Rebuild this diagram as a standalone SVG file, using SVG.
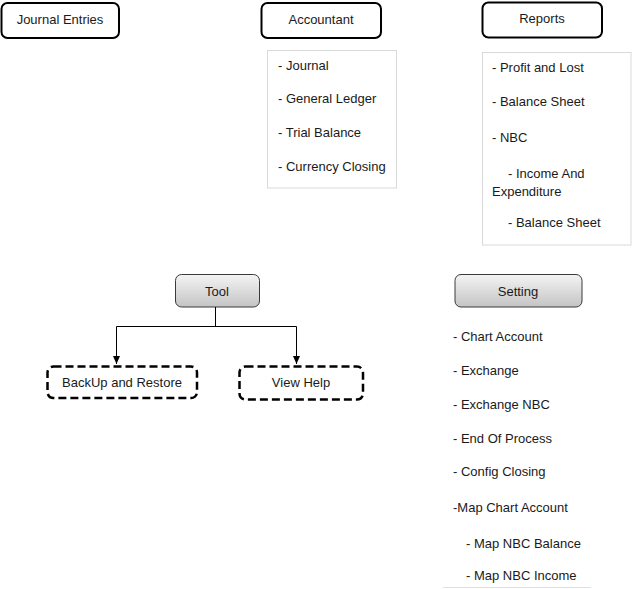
<svg xmlns="http://www.w3.org/2000/svg" width="633" height="589" viewBox="0 0 633 589">
<defs>
<linearGradient id="grayGrad" x1="0" y1="0" x2="0" y2="1">
<stop offset="0" stop-color="#f4f4f4"/>
<stop offset="1" stop-color="#c4c4c4"/>
</linearGradient>
<marker id="arrow" viewBox="0 0 8 7" refX="8" refY="3.5" markerWidth="8" markerHeight="7" markerUnits="userSpaceOnUse" orient="auto">
<path d="M0,0 L8,3.5 L0,7 Z" fill="#000"/>
</marker>
</defs>
<style>
text { font-family: "Liberation Sans", Arial, sans-serif; fill: #1a1a1a; }
.hdr { font-size: 13px; text-anchor: middle; }
.item { font-size: 13px; }
.box { fill: #fff; stroke: #000; stroke-width: 2; }
.gbox { fill: url(#grayGrad); stroke: #3a3a3a; stroke-width: 1; }
.dbox { fill: #fff; stroke: #000; stroke-width: 2.5; stroke-dasharray: 8 4; }
.list { fill: #fff; stroke: #d9d9d9; stroke-width: 1; }
.conn { fill: none; stroke: #000; stroke-width: 1; }
</style>

<g id="journal-entries">
<rect class="box" x="1.5" y="3" width="117.5" height="35" rx="6"/>
<text class="hdr" x="60" y="23.5">Journal Entries</text>
</g>

<g id="accountant">
<rect class="box" x="261.5" y="3" width="119.5" height="35" rx="6"/>
<text class="hdr" x="321" y="23.5">Accountant</text>
</g>

<g id="accountant-list">
<rect class="list" x="267.5" y="50.5" width="129" height="137.5"/>
<text class="item" x="278" y="70">- Journal</text>
<text class="item" x="278" y="103">- General Ledger</text>
<text class="item" x="278" y="137">- Trial Balance</text>
<text class="item" x="278" y="171">- Currency Closing</text>
</g>

<g id="reports">
<rect class="box" x="482.5" y="2.5" width="119.5" height="35" rx="6"/>
<text class="hdr" x="542" y="22.5">Reports</text>
</g>

<g id="reports-list">
<rect class="list" x="482.5" y="52.5" width="148.5" height="192.5"/>
<text class="item" x="492" y="72">- Profit and Lost</text>
<text class="item" x="492" y="106">- Balance Sheet</text>
<text class="item" x="492" y="142">- NBC</text>
<text class="item" x="508" y="178">- Income And</text>
<text class="item" x="492" y="196">Expenditure</text>
<text class="item" x="508" y="227">- Balance Sheet</text>
</g>

<g id="tool">
<rect class="gbox" x="175.5" y="274.5" width="84" height="32.5" rx="6"/>
<text class="hdr" x="217" y="295.5">Tool</text>
</g>

<g id="backup-restore">
<rect class="dbox" x="47.5" y="366.5" width="149.5" height="31.5" rx="6"/>
<text class="hdr" x="122" y="387">BackUp and Restore</text>
</g>

<g id="view-help">
<rect class="dbox" x="239.5" y="366.5" width="123.5" height="33" rx="6"/>
<text class="hdr" x="301" y="387">View Help</text>
</g>

<g id="setting">
<rect class="gbox" x="455" y="274.5" width="127" height="32.5" rx="6"/>
<text class="hdr" x="518" y="295.5">Setting</text>
</g>

<g id="setting-list">
<line x1="443" y1="587.5" x2="591" y2="587.5" stroke="#e0e0e0" stroke-width="1"/>
<text class="item" x="453" y="340.5">- Chart Account</text>
<text class="item" x="453" y="374.5">- Exchange</text>
<text class="item" x="453" y="408.5">- Exchange NBC</text>
<text class="item" x="453" y="442.5">- End Of Process</text>
<text class="item" x="453" y="475.5">- Config Closing</text>
<text class="item" x="453" y="511.5">-Map Chart Account</text>
<text class="item" x="466" y="547.5">- Map NBC Balance</text>
<text class="item" x="466" y="579.5">- Map NBC Income</text>
</g>

<g id="connectors">
<line class="conn" x1="215.5" y1="307" x2="215.5" y2="326.5"/>
<polyline class="conn" points="216,326.5 116.5,326.5 116.5,364" marker-end="url(#arrow)"/>
<polyline class="conn" points="215,326.5 296.5,326.5 296.5,364" marker-end="url(#arrow)"/>
</g>
</svg>
